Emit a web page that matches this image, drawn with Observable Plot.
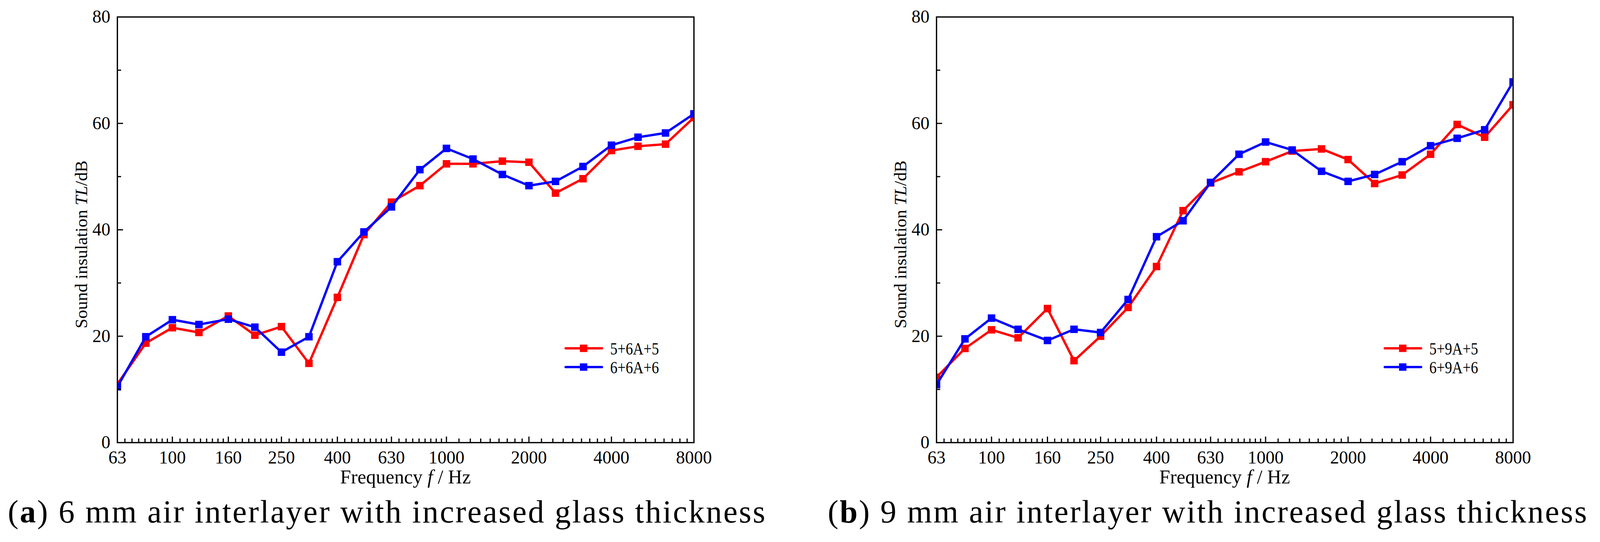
<!DOCTYPE html>
<html>
<head>
<meta charset="utf-8">
<script src="https://cdn.jsdelivr.net/npm/d3@7"></script>
<script src="https://cdn.jsdelivr.net/npm/@observablehq/plot@0.6"></script>
<style>
  html, body { margin: 0; padding: 0; background: #fff; }
  #page { position: relative; width: 4110px; height: 1388px; overflow: hidden; background: #fff; }
  .panel { position: absolute; top: 0; width: 2055px; height: 1388px; }
  .panel svg { position: absolute; left: 0; top: 0; }
  .caption { position: absolute; top: 1270px; font-family: "Liberation Serif", serif; font-size: 82px;
             line-height: 82px; letter-spacing: 3.5px; white-space: nowrap; color: #000; }
</style>
</head>
<body>
<div id="page"></div>
<script>
// ---------- data ----------
const frequencies = [63, 80, 100, 125, 160, 200, 250, 315, 400, 500, 630, 800, 1000, 1250, 1600, 2000, 2500, 3150, 4000, 5000, 6300, 8000];
const xTickLabels = [63, 100, 160, 250, 400, 630, 1000, 2000, 4000, 8000];
const yTickLabels = [0, 20, 40, 60, 80];
const yMinorTicks = [10, 30, 50, 70];

// panel (a): 6 mm air interlayer
const seriesA1Name = "5+6A+5";
const seriesA1 = [11.0, 18.7, 21.6, 20.7, 23.8, 20.2, 21.8, 14.9, 27.3, 39.1, 45.2, 48.3, 52.4, 52.4, 52.9, 52.7, 46.9, 49.6, 54.9, 55.7, 56.1, 61.1];
const seriesA2Name = "6+6A+6";
const seriesA2 = [10.5, 19.9, 23.1, 22.2, 23.2, 21.7, 17.0, 19.9, 34.0, 39.6, 44.3, 51.3, 55.3, 53.3, 50.4, 48.3, 49.1, 51.9, 55.9, 57.4, 58.2, 61.8];

// panel (b): 9 mm air interlayer
const seriesB1Name = "5+9A+5";
const seriesB1 = [12.3, 17.7, 21.2, 19.7, 25.2, 15.4, 20.0, 25.4, 33.1, 43.6, 48.8, 50.9, 52.8, 54.8, 55.2, 53.2, 48.7, 50.3, 54.2, 59.8, 57.4, 63.5];
const seriesB2Name = "6+9A+6";
const seriesB2 = [10.9, 19.5, 23.4, 21.3, 19.2, 21.3, 20.7, 26.9, 38.7, 41.7, 48.9, 54.2, 56.5, 55.0, 51.0, 49.1, 50.4, 52.8, 55.8, 57.2, 58.8, 67.8];

const colors = ["#ff0000", "#0000ff"];
const captionA = ["a", " 6 mm air interlayer with increased glass thickness"];
const captionB = ["b", " 9 mm air interlayer with increased glass thickness"];

// minor ticks: 8 linear subdivisions between labelled ticks
const xMinorTicks = d3.pairs(xTickLabels).flatMap(([a, b]) => d3.range(1, 9).map(k => a + k * (b - a) / 9));

// ---------- drawing ----------
const FONT = "Liberation Serif";
const W = 2055, H = 1262;
const TOP = 43, BOTTOM = 1133;
const FRAME_W = 1476, FRAME_H = BOTTOM - TOP;

function makePanel(left, marginLeft, captionLeft, names, series, caption) {
  const marginRight = W - marginLeft - FRAME_W;
  const marks = [];
  series.forEach((vals, si) => {
    const d = vals.map((v, i) => ({f: frequencies[i], tl: v}));
    marks.push(Plot.line(d, {x: "f", y: "tl", stroke: colors[si], strokeWidth: 6, strokeLinejoin: "round", clip: "frame"}));
    marks.push(Plot.dot(d, {x: "f", y: "tl", symbol: "square", r: 10.8, fill: colors[si], stroke: "none", clip: "frame"}));
  });
  marks.push(
    Plot.tickX(xMinorTicks, {x: d => d, insetTop: FRAME_H - 10, stroke: "#000", strokeWidth: 3}),
    Plot.tickX(xTickLabels, {x: d => d, insetTop: FRAME_H - 15, stroke: "#000", strokeWidth: 3}),
    Plot.tickY(yMinorTicks, {y: d => d, insetRight: FRAME_W - 10, stroke: "#000", strokeWidth: 3}),
    Plot.tickY(yTickLabels, {y: d => d, insetRight: FRAME_W - 15, stroke: "#000", strokeWidth: 3}),
    Plot.axisX(xTickLabels, {tickSize: 0, tickPadding: 21, fontSize: 46, fontFamily: FONT, tickFormat: d => String(d), label: null}),
    Plot.axisY(yTickLabels, {tickSize: 0, tickPadding: 18, fontSize: 46, fontFamily: FONT, tickFormat: d => String(d), label: null}),
    Plot.frame({stroke: "#000", strokeWidth: 3.3})
  );
  const plot = Plot.plot({
    width: W, height: H,
    marginLeft, marginRight, marginTop: TOP, marginBottom: H - BOTTOM,
    x: {type: "log", domain: [63, 8000]},
    y: {domain: [0, 80]},
    style: {fontFamily: FONT, color: "#000", background: "transparent", overflow: "visible"},
    marks
  });

  const svg = d3.select(plot);
  const frameRight = marginLeft + FRAME_W;
  // axis titles
  const xt = svg.append("text")
    .attr("x", marginLeft + FRAME_W / 2).attr("y", 1238)
    .attr("text-anchor", "middle").attr("font-family", FONT).attr("font-size", 50).attr("fill", "#000");
  xt.append("tspan").text("Frequency ");
  xt.append("tspan").attr("font-style", "italic").text("f");
  xt.append("tspan").text(" / Hz");

  const yt = svg.append("text")
    .attr("transform", `translate(${marginLeft - 77},626) rotate(-90)`)
    .attr("text-anchor", "middle").attr("font-family", FONT).attr("font-size", 45).attr("fill", "#000");
  yt.append("tspan").text("Sound insulation ");
  yt.append("tspan").attr("font-style", "italic").text("TL");
  yt.append("tspan").text("/dB");

  // legend
  const rows = [892, 940];
  names.forEach((name, i) => {
    const g = svg.append("g");
    g.append("line").attr("x1", frameRight - 328).attr("x2", frameRight - 235)
      .attr("y1", rows[i]).attr("y2", rows[i])
      .attr("stroke", colors[i]).attr("stroke-width", 6).attr("stroke-linecap", "round");
    g.append("rect").attr("x", frameRight - 282 - 9.5).attr("y", rows[i] - 9.5)
      .attr("width", 19).attr("height", 19).attr("fill", colors[i]);
    g.append("text").attr("x", frameRight - 214).attr("y", rows[i] + 16)
      .attr("text-anchor", "start")
      .attr("font-family", FONT).attr("font-size", 45).attr("fill", "#000")
      .attr("textLength", 125).attr("lengthAdjust", "spacingAndGlyphs").text(name);
  });

  const div = document.createElement("div");
  div.className = "panel";
  div.style.left = left + "px";
  div.appendChild(plot);
  const cap = document.createElement("div");
  cap.className = "caption";
  cap.style.left = captionLeft + "px";
  cap.innerHTML = `(<b>${caption[0]}</b>)${caption[1]}`;
  div.appendChild(cap);
  document.getElementById("page").appendChild(div);
}

makePanel(0, 300, 20, [seriesA1Name, seriesA2Name], [seriesA1, seriesA2], captionA);
makePanel(2055, 342, 64, [seriesB1Name, seriesB2Name], [seriesB1, seriesB2], captionB);
</script>
</body>
</html>
